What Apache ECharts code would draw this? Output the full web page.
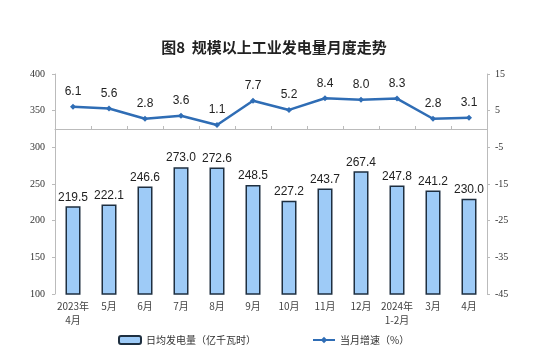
<!DOCTYPE html>
<html><head><meta charset="utf-8">
<script src="https://cdn.jsdelivr.net/npm/echarts@6/dist/echarts.min.js"></script>
<style>html,body{margin:0;padding:0;background:#fff}#c{width:548px;height:360px}</style>
</head><body><div id="c"></div>
<script>
const categories = ['2023年\n4月','5月','6月','7月','8月','9月','10月','11月','12月','2024年\n1-2月','3月','4月'];
const dailyOutput = [219.5,222.1,246.6,273.0,272.6,248.5,227.2,243.7,267.4,247.8,241.2,230.0];
const growthRate = [6.1,5.6,2.8,3.6,1.1,7.7,5.2,8.4,8.0,8.3,2.8,3.1];
const title = '图8  规模以上工业发电量月度走势';
const barName = '日均发电量（亿千瓦时）';
const lineName = '当月增速（%）';

const chart = echarts.init(document.getElementById('c'));
chart.setOption({
  animation:false,
  backgroundColor:'#fff',
  title:{text:title,left:'center',top:35,textStyle:{fontSize:15,fontWeight:'bold',color:'#222',fontFamily:'Noto Sans CJK SC'}},
  legend:{bottom:10,left:113,itemGap:56,itemWidth:22,itemHeight:8,
    textStyle:{fontSize:10,color:'#333',fontFamily:'Noto Sans CJK SC'},
    data:[{name:barName,icon:'roundRect'},{name:lineName}]},
  grid:{left:55,right:61,top:74,bottom:66},
  xAxis:{type:'category',data:categories,
    axisLine:{lineStyle:{color:'#bbb'}},
    axisTick:{show:true,alignWithLabel:false,inside:true,length:3,lineStyle:{color:'#bbb'}},
    axisLabel:{fontSize:10,color:'#444',fontFamily:'Noto Sans CJK SC',lineHeight:14,margin:5,interval:0}},
  yAxis:[
    {type:'value',min:100,max:400,interval:50,
     axisLine:{show:true,lineStyle:{color:'#bbb'}},axisTick:{show:true,length:3,lineStyle:{color:'#bbb'}},
     splitLine:{show:false},
     axisLabel:{fontSize:10,color:'#333',fontFamily:'Liberation Serif',margin:10}},
    {type:'value',min:-45,max:15,interval:10,
     axisLine:{show:true,lineStyle:{color:'#bbb'}},axisTick:{show:true,length:3,lineStyle:{color:'#bbb'}},
     splitLine:{show:false},
     axisLabel:{fontSize:10,color:'#333',fontFamily:'Liberation Serif',margin:8}}
  ],
  series:[
    {name:barName,type:'bar',data:dailyOutput,barWidth:15,
     itemStyle:{color:'#9ecbf7',borderColor:'#1e2f40',borderWidth:1.5},
     label:{show:true,position:'top',fontSize:12,color:'#222',fontFamily:'Liberation Sans',formatter:p=>p.value.toFixed(1),distance:3}},
    {name:lineName,type:'line',yAxisIndex:1,data:growthRate,
     symbol:'diamond',symbolSize:6,
     lineStyle:{color:'#2f6db5',width:2.5},itemStyle:{color:'#2f6db5'},
     label:{show:true,position:'top',fontSize:12,color:'#222',fontFamily:'Liberation Sans',formatter:p=>p.value.toFixed(1),distance:6}}
  ]
});
</script></body></html>
